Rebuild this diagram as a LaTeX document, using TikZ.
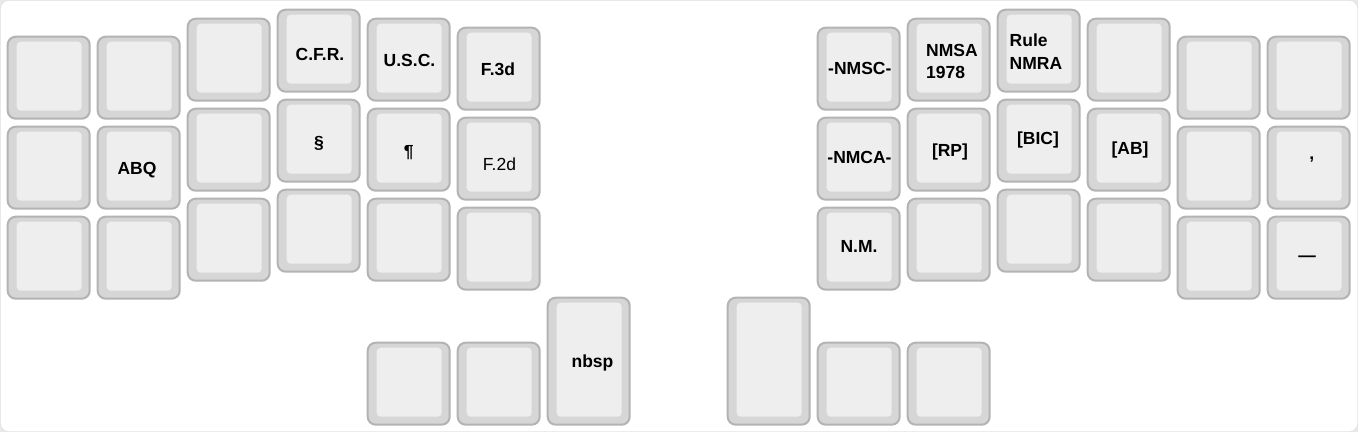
\documentclass[tikz,border=0pt]{standalone}
\usepackage{fontspec}
\setmainfont{Liberation Sans}
\definecolor{keyborder}{HTML}{B3B3B3}
\definecolor{keyside}{HTML}{D6D6D6}
\definecolor{keytop}{HTML}{EEEEEE}
\definecolor{frameline}{HTML}{DCDCDC}
\definecolor{outside}{HTML}{E8E8E8}
\tikzset{
  outerkey/.style={draw=keyborder, fill=keyside, line width=2pt, rounded corners=8pt,
    rectangle, inner sep=0pt, minimum width=82pt},
  keytopfill/.style={fill=keytop, rounded corners=4pt},
  lbl/.style={inner sep=0pt, anchor=base, font=\fontsize{17.5}{21}\selectfont\bfseries},
  lblw/.style={lbl, anchor=base west},
  lblr/.style={inner sep=0pt, anchor=base, font=\fontsize{17.5}{21}\selectfont},
}
% name, left x, top y, outer height
\newcommand\kcap[4]{%
  \node[outerkey, minimum height={#4-2}] (#1) at ({#2+42},{#3+#4/2}) {};
  \fill[keytopfill] ({#2+10},{#3+6}) rectangle ({#2+75},{#3+#4-9});
}
\begin{document}
\begin{tikzpicture}[x=1pt,y=-1pt]
\useasboundingbox (0,0) rectangle (1358,432);
\fill[outside] (0,0) rectangle (1358,432);
\draw[frameline, fill=white, rounded corners=8pt] (0.5,0.5) rectangle (1357.5,431.5);
% column x positions and top offsets
\def\U{90}
% left half
\foreach \c/\t in {0/35.7,1/35.7,2/17.7,3/8.7,4/17.7,5/26.7}{
  \foreach \r in {0,1,2}{
    \kcap{kL\c\r}{6.7+\c*\U}{\t+\r*\U}{84}
  }
}
% right half
\foreach \c/\t in {9/26.7,10/17.7,11/8.7,12/17.7,13/35.7,14/35.7}{
  \foreach \r in {0,1,2}{
    \kcap{kR\c\r}{6.7+\c*\U}{\t+\r*\U}{84}
  }
}
% thumbs
\kcap{tL4}{366.7}{341.7}{84}
\kcap{tL5}{456.7}{341.7}{84}
\kcap{tL6}{546.7}{296.7}{129}
\kcap{tR8}{726.7}{296.7}{129}
\kcap{tR9}{816.7}{341.7}{84}
\kcap{tR10}{906.7}{341.7}{84}
% labels left
\node[lbl] (cfr) at (320,60) {C.F.R.};
\node[lbl] (usc) at (409.5,66.7) {U.S.C.};
\node[lbl] (f3d) at (498,75) {F.3d};
\node[lbl] (sect) at (319,148) {§};
\node[lbl] (para) at (408.7,157) {¶};
\node[lblr] (f2d) at (499.5,170) {F.2d};
\node[lbl] (abq) at (137,174) {ABQ};
\node[lbl] (nbsp) at (592.5,367) {nbsp};
% labels right
\node[lbl] (nmsc) at (859.8,74) {-NMSC-};
\node[lblw] (nmsa) at (926,56.7) {NMSA};
\node[lblw] (y1978) at (926,78.3) {1978};
\node[lblw] (rule) at (1009.5,46.7) {Rule};
\node[lblw] (nmra) at (1009.5,69) {NMRA};
\node[lbl] (nmca) at (859.5,163.3) {-NMCA-};
\node[lbl] (rp) at (950,156) {[RP]};
\node[lbl] (bic) at (1038,144) {[BIC]};
\node[lbl] (ab) at (1130,154) {[AB]};
\node[lbl] (nm) at (859,252.3) {N.M.};
\node[lbl] (comma) at (1311.7,159.5) {,};
\node[lbl] (dash) at (1307,261.4) {—};
\end{tikzpicture}
\end{document}
